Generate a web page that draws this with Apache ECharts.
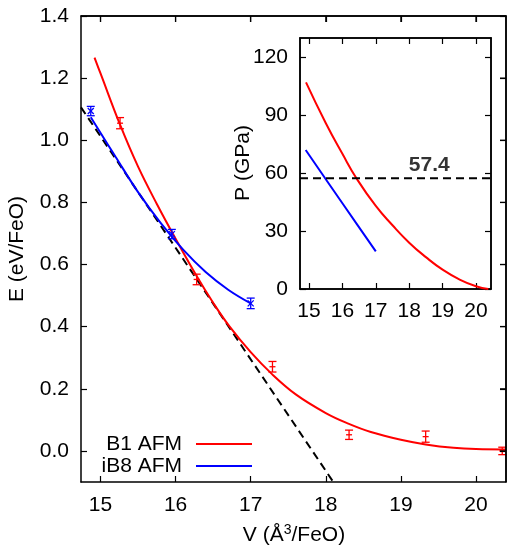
<!DOCTYPE html>
<html><head><meta charset="utf-8">
<script src="https://cdn.jsdelivr.net/npm/echarts@6/dist/echarts.min.js"></script>
<style>html,body{margin:0;padding:0;background:#fff}#c{width:507px;height:547px}</style>
</head><body><div id="c"></div>
<script>
// ---- data ----
const b1FitV = [14.92, 15.0, 15.26, 15.5, 15.75, 16.0, 16.28, 16.5, 16.72, 17.0, 17.28, 17.6, 18.0, 18.3, 18.6, 19.0, 19.33, 19.7, 20.0, 20.4];
const b1FitE = [1.266, 1.215, 1.05, 0.915, 0.795, 0.683, 0.563, 0.477, 0.40, 0.318, 0.248, 0.182, 0.122, 0.088, 0.061, 0.036, 0.021, 0.010, 0.006, 0.005];
const ib8FitV = [14.87, 15.2, 15.5, 15.8, 16.1, 16.4, 16.7, 17.0];
const ib8FitE = [1.074, 0.947, 0.833, 0.734, 0.648, 0.576, 0.519, 0.475];
const tangentV = [14.74, 18.10];
const tangentE = [1.106, -0.10];
const b1PtsV = [15.26, 16.28, 17.29, 18.31, 19.33, 20.35];
const b1PtsE = [1.055, 0.552, 0.271, 0.052, 0.046, 0.000];
const b1PtsErr = [0.018, 0.017, 0.017, 0.015, 0.018, 0.012];
const ib8PtsV = [14.87, 15.95, 17.0];
const ib8PtsE = [1.094, 0.698, 0.475];
const ib8PtsErr = [0.015, 0.015, 0.017];
// inset: pressure
const b1PV = [14.91, 15.5, 16.0, 16.42, 17.0, 17.5, 18.0, 18.5, 19.0, 19.5, 20.0, 20.37];
const b1PP = [107, 86, 70, 57.4, 43, 33, 24, 16.5, 10, 5, 1.4, 0];
const ib8PV = [14.9, 16.0, 17.0];
const ib8PP = [72, 44.4, 19.5];
const transitionP = 57.4;
const transitionLabelV = 18.6;
// ticks
const mainXTicks = [15, 16, 17, 18, 19, 20];
const mainYTicks = [0.0, 0.2, 0.4, 0.6, 0.8, 1.0, 1.2, 1.4];
const insetXTicks = [15, 16, 17, 18, 19, 20];
const insetYTicks = [0, 30, 60, 90, 120];
const legendNames = ['B1 AFM', 'iB8 AFM'];

const zip = (a, b) => a.map((v, i) => [v, b[i]]);
const FONT = "'Liberation Sans', Arial, sans-serif";
const RED = '#ff0000', BLUE = '#0000ff';
const TICKFS = 21;

function axisBase(extra) {
  return Object.assign({
    type: 'value', z: 6,
    axisLine: { show: true, onZero: false, lineStyle: { color: '#000', width: 1.5 } },
    splitLine: { show: false }
  }, extra);
}
function ticks(vals) {
  return { show: true, inside: true, length: 6, customValues: vals, lineStyle: { color: '#000', width: 1.2 } };
}
function labels(vals, margin, fmt) {
  return { show: true, color: '#000', fontSize: TICKFS, fontFamily: FONT, margin: margin, customValues: vals, formatter: fmt };
}

function errRender(color, marker) {
  return function (params, api) {
    const x = api.value(0), y = api.value(1), e = api.value(2);
    const p = api.coord([x, y]);
    const lo = api.coord([x, y - e]);
    const hi = api.coord([x, y + e]);
    const cw = 4, m = 3;
    const st = { stroke: color, lineWidth: 1.3 };
    const ch = [
      { type: 'line', shape: { x1: lo[0], y1: lo[1], x2: hi[0], y2: hi[1] }, style: st },
      { type: 'line', shape: { x1: lo[0] - cw, y1: lo[1], x2: lo[0] + cw, y2: lo[1] }, style: st },
      { type: 'line', shape: { x1: hi[0] - cw, y1: hi[1], x2: hi[0] + cw, y2: hi[1] }, style: st }
    ];
    if (marker === 'plus') {
      ch.push({ type: 'line', shape: { x1: p[0] - m, y1: p[1], x2: p[0] + m, y2: p[1] }, style: st });
    } else {
      ch.push({ type: 'line', shape: { x1: p[0] - m, y1: p[1] - m, x2: p[0] + m, y2: p[1] + m }, style: st });
      ch.push({ type: 'line', shape: { x1: p[0] - m, y1: p[1] + m, x2: p[0] + m, y2: p[1] - m }, style: st });
    }
    return { type: 'group', children: ch };
  };
}
// mirrored tick marks (top: dy=+1 downward; right: dx=-1 leftward)
function tickRender(dx, dy) {
  return function (params, api) {
    const p = api.coord([api.value(0), api.value(1)]);
    return { type: 'line', shape: { x1: p[0], y1: p[1], x2: p[0] + dx * 6, y2: p[1] + dy * 6 },
      style: { stroke: '#000', lineWidth: 1.2 } };
  };
}

const chart = echarts.init(document.getElementById('c'), null, { renderer: 'canvas' });
const mainX = { min: 14.74, max: 20.4 };
const mainY = { min: -0.1, max: 1.4 };
const insX = { min: 14.73, max: 20.45 };
const insY = { min: 0, max: 130 };

const option = {
  animation: false,
  backgroundColor: '#fff',
  grid: [
    { left: 81, top: 16, width: 425, height: 466 },
    { left: 300, top: 38, width: 191, height: 251, show: true, backgroundColor: '#fff', borderColor: '#000', borderWidth: 1.5, z: 5 }
  ],
  xAxis: [
    axisBase(Object.assign({ gridIndex: 0, position: 'bottom', axisTick: ticks(mainXTicks),
      axisLabel: labels(mainXTicks, 13, v => String(v)) }, mainX)),
    axisBase(Object.assign({ gridIndex: 0, position: 'top', axisTick: ticks(mainXTicks),
      axisLabel: { show: false } }, mainX)),
    axisBase(Object.assign({ gridIndex: 1, position: 'bottom', axisTick: ticks(insetXTicks),
      axisLabel: labels(insetXTicks, 12, v => String(v)) }, insX)),
    axisBase(Object.assign({ gridIndex: 1, position: 'top', axisTick: ticks(insetXTicks),
      axisLabel: { show: false } }, insX))
  ],
  yAxis: [
    axisBase(Object.assign({ gridIndex: 0, position: 'left', axisTick: ticks(mainYTicks),
      axisLabel: labels(mainYTicks, 12, v => v.toFixed(1)) }, mainY)),
    axisBase(Object.assign({ gridIndex: 0, position: 'right', axisTick: ticks(mainYTicks),
      axisLabel: { show: false } }, mainY)),
    axisBase(Object.assign({ gridIndex: 1, position: 'left', axisTick: ticks(insetYTicks),
      axisLabel: labels(insetYTicks, 12, v => String(v)) }, insY)),
    axisBase(Object.assign({ gridIndex: 1, position: 'right', axisTick: ticks(insetYTicks),
      axisLabel: { show: false } }, insY))
  ],
  legend: [
    { data: [legendNames[0]], orient: 'vertical', right: 255, top: 433, align: 'right', padding: 0,
      icon: 'rect', itemWidth: 56, itemHeight: 2,
      textStyle: { color: '#000', fontSize: 21, fontFamily: FONT, lineHeight: 22, padding: [0, 9, 0, 0] } },
    { data: [legendNames[1]], orient: 'vertical', right: 255, top: 455, align: 'right', padding: 0,
      icon: 'rect', itemWidth: 56, itemHeight: 2,
      textStyle: { color: '#000', fontSize: 21, fontFamily: FONT, lineHeight: 22, padding: [0, 9, 0, 0] } }
  ],
  series: [
    { name: legendNames[0], type: 'line', xAxisIndex: 0, yAxisIndex: 0, data: zip(b1FitV, b1FitE), smooth: 0.4,
      showSymbol: false, color: RED, lineStyle: { color: RED, width: 2 }, z: 3 },
    { name: legendNames[1], type: 'line', xAxisIndex: 0, yAxisIndex: 0, data: zip(ib8FitV, ib8FitE), smooth: 0.4,
      showSymbol: false, color: BLUE, lineStyle: { color: BLUE, width: 2 }, z: 3 },
    { name: 'tangent', type: 'line', xAxisIndex: 0, yAxisIndex: 0, data: zip(tangentV, tangentE),
      showSymbol: false, lineStyle: { color: '#000', width: 2, type: [8, 5] }, z: 2 },
    { name: 'B1 pts', type: 'custom', xAxisIndex: 0, yAxisIndex: 0,
      data: b1PtsV.map((v, i) => [v, b1PtsE[i], b1PtsErr[i]]), renderItem: errRender(RED, 'plus'), z: 4 },
    { name: 'iB8 pts', type: 'custom', xAxisIndex: 0, yAxisIndex: 0,
      data: ib8PtsV.map((v, i) => [v, ib8PtsE[i], ib8PtsErr[i]]), renderItem: errRender(BLUE, 'cross'), z: 4 },
    // main frame (top and right sides) at the axis extents
    { name: 'frame', type: 'line', xAxisIndex: 0, yAxisIndex: 0, silent: true, clip: false,
      data: [[mainX.min, mainY.max], [mainX.max, mainY.max], [mainX.max, mainY.min]],
      showSymbol: false, lineStyle: { color: '#000', width: 1.5 }, z: 9 },
    { name: 'topTicks', type: 'custom', xAxisIndex: 0, yAxisIndex: 0, silent: true, clip: false,
      data: mainXTicks.map(v => [v, mainY.max]), renderItem: tickRender(0, 1), z: 9 },
    { name: 'rightTicks', type: 'custom', xAxisIndex: 0, yAxisIndex: 0, silent: true, clip: false,
      data: mainYTicks.map(v => [mainX.max, v]), renderItem: tickRender(-1, 0), z: 9 },
    // inset
    { name: 'B1 P', type: 'line', xAxisIndex: 2, yAxisIndex: 2, data: zip(b1PV, b1PP), smooth: 0.5,
      showSymbol: false, lineStyle: { color: RED, width: 2 }, z: 7 },
    { name: 'iB8 P', type: 'line', xAxisIndex: 2, yAxisIndex: 2, data: zip(ib8PV, ib8PP), smooth: 0.3,
      showSymbol: false, lineStyle: { color: BLUE, width: 2 }, z: 7 },
    { name: 'Pt', type: 'line', xAxisIndex: 2, yAxisIndex: 2, data: [[insX.min, transitionP], [insX.max, transitionP]],
      showSymbol: false, lineStyle: { color: '#000', width: 2, type: [8, 5] }, z: 7 },
    { name: 'Pt label', type: 'scatter', xAxisIndex: 2, yAxisIndex: 2, data: [[transitionLabelV, transitionP]],
      symbolSize: 0, z: 8,
      label: { show: true, position: 'top', distance: 2, formatter: String(transitionP),
        color: '#000', fontSize: 21, fontWeight: 'bold', fontFamily: FONT } }
  ],
  graphic: [
    { type: 'text', x: 17, y: 249, rotation: Math.PI / 2, z: 10,
      style: { text: 'E (eV/FeO)', fill: '#000', fontSize: 21, fontFamily: FONT, align: 'center', verticalAlign: 'middle' } },
    { type: 'text', x: 243, y: 163, rotation: Math.PI / 2, z: 10,
      style: { text: 'P (GPa)', fill: '#000', fontSize: 21, fontFamily: FONT, align: 'center', verticalAlign: 'middle' } },
    { type: 'text', x: 294, y: 535, z: 10,
      style: { text: '{a|V (Å}{s|3}{a|/FeO)}', align: 'center', verticalAlign: 'middle',
        rich: { a: { fontSize: 21, fontFamily: FONT, fill: '#000' },
                s: { fontSize: 14, fontFamily: FONT, fill: '#000', padding: [0, 0, 10, 0] } } } }
  ]
};
chart.setOption(option);
</script></body></html>
